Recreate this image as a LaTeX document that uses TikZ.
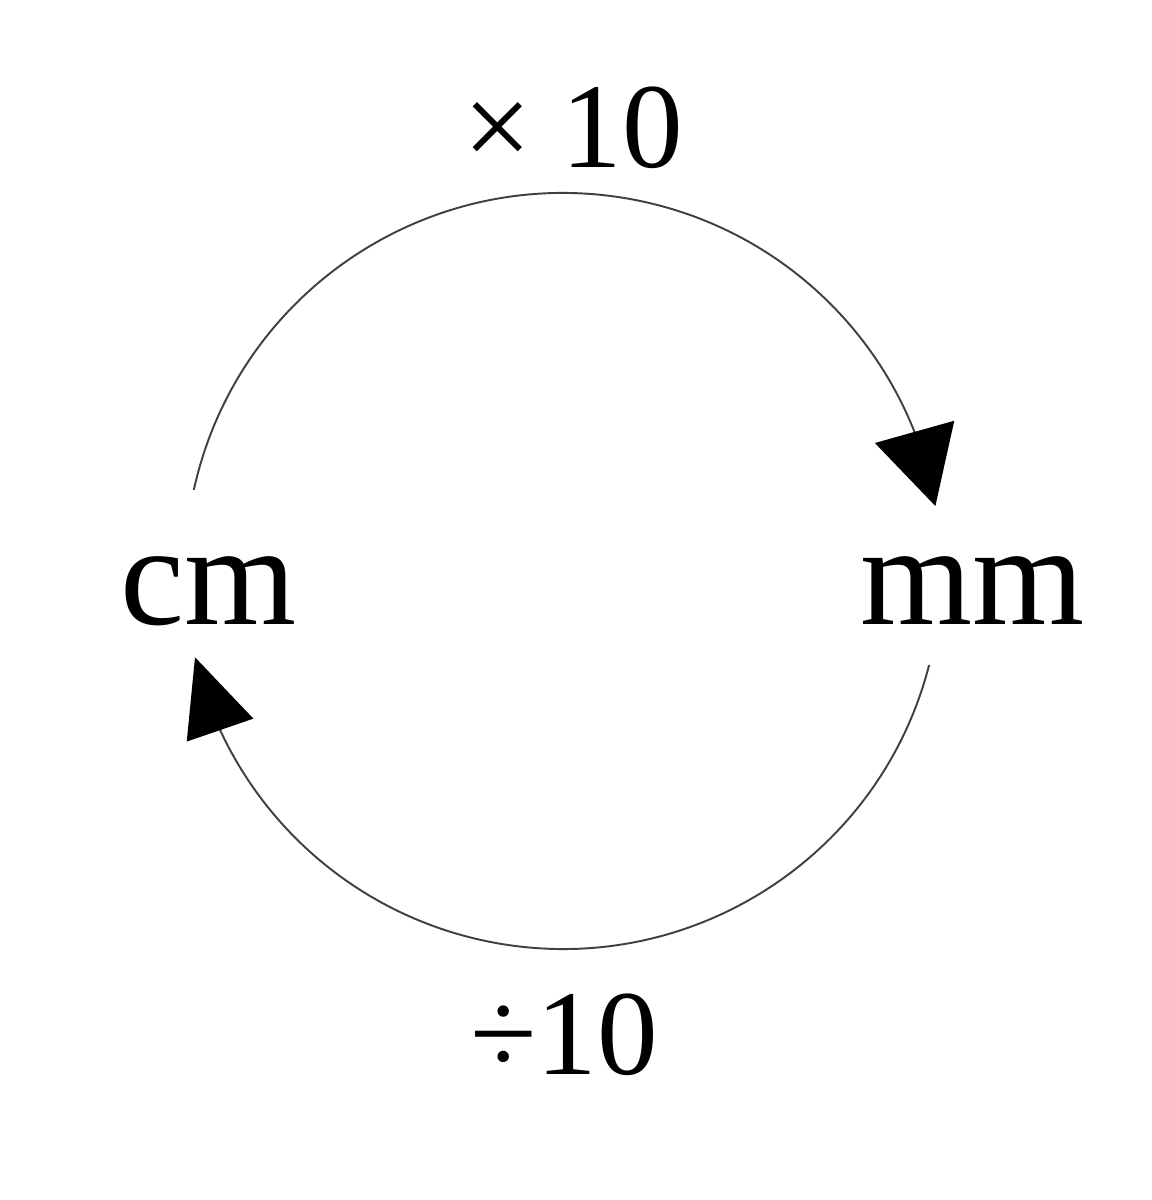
\documentclass[tikz,border=0pt]{standalone}
\usepackage{fontspec}
\setmainfont{Liberation Serif}
\usetikzlibrary{arrows.meta,bending,calc}
\begin{document}
\begin{tikzpicture}[x=0.1mm,y=0.1mm,
  unit/.style={inner sep=0pt,anchor=base,font=\fontsize{41pt}{48pt}\selectfont},
  oplabel/.style={inner sep=0pt,anchor=base,font=\fontsize{34.5pt}{40pt}\selectfont},
  conv/.style={line width=0.55pt,draw=black!75}]
\useasboundingbox (0,0) rectangle (1152,1200);
\coordinate (ctr) at (563,629);
\node[unit] (cm) at (208.5,575) {cm};
\node[unit] (mm) at (972.5,575) {mm};
\node[oplabel] (times) at (573,1032) {× 10};
\node[oplabel] (div) at (564,125) {÷10};
\coordinate (upS) at ($(ctr)+(167.6:378)$);
\coordinate (loS) at ($(ctr)+(-14.4:378)$);
\draw[conv,-{Triangle[length=7.7mm,width=8.2mm,color=black]}] (upS) arc[start angle=167.6,end angle=9.9,radius=378];
\draw[conv,-{Triangle[length=7.7mm,width=7mm,color=black]}] (loS) arc[start angle=-14.4,end angle=-166.8,radius=378];
\end{tikzpicture}
\end{document}
